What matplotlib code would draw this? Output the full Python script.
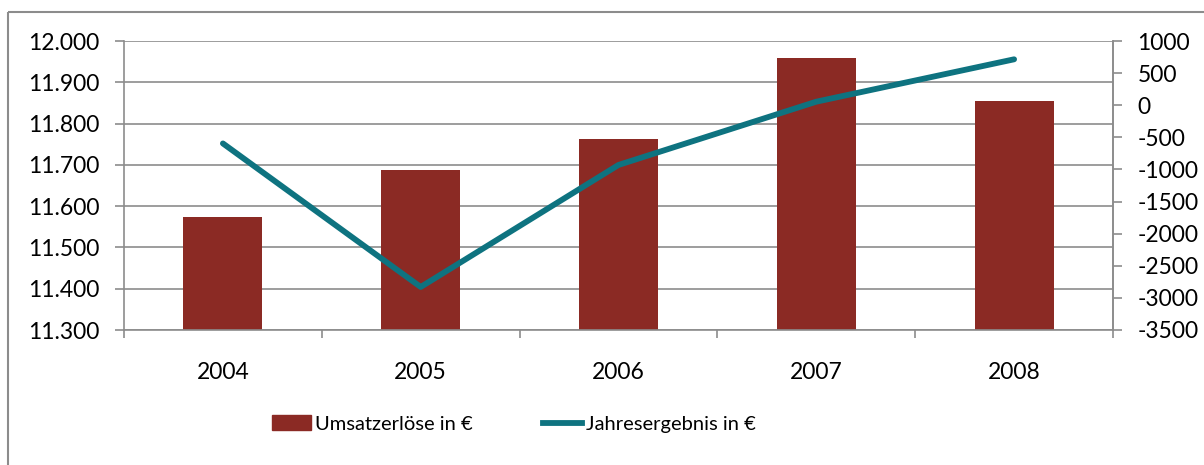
"""
Umsatzerlöse (bars, left axis) vs. Jahresergebnis (line, right axis), 2004-2008.
Saves out.png.
"""

import matplotlib.pyplot as plt
from matplotlib.patches import Rectangle
from matplotlib.lines import Line2D
from matplotlib.ticker import FuncFormatter

# data
years = ["2004", "2005", "2006", "2007", "2008"]
umsatz = [11.573, 11.688, 11.762, 11.958, 11.855]
ergebnis = [-595, -2830, -930, 55, 715]
left_ticks = [11.3, 11.4, 11.5, 11.6, 11.7, 11.8, 11.9, 12.0]
right_ticks = [-3500, -3000, -2500, -2000, -1500, -1000, -500, 0, 500, 1000]

bar_color = "#8B2A24"
line_color = "#0E7380"
grid_color = "#8C8C8C"

plt.rcParams["font.family"] = ["Lato", "DejaVu Sans"]
plt.rcParams["axes.unicode_minus"] = False
fs = 16.5      # tick / year labels
fs_leg = 14.5  # legend

W, H = 1204, 465
fig = plt.figure(figsize=(W / 100, H / 100), dpi=100)

# outer chart border (cut off at right/bottom like the screenshot)
fig.patches.append(Rectangle((8 / W, 1 - 12 / H), 1.2, -1.2, transform=fig.transFigure,
                             fill=False, edgecolor="#8C8C8C", linewidth=1.5))

ax = fig.add_axes([124 / W, 1 - 330 / H, (1113 - 124) / W, (330 - 41) / H])
x = list(range(len(years)))
ax.bar(x, umsatz, width=0.4, color=bar_color, zorder=2)
ax.set_ylim(11.3, 12.0)
ax.set_xlim(-0.5, len(years) - 0.5)
ax.set_yticks(left_ticks)
ax.yaxis.set_major_formatter(FuncFormatter(lambda v, p: f"{v:.3f}"))
ax.grid(axis="y", color=grid_color, linewidth=1.2, zorder=0)
ax.set_axisbelow(True)

# category boundaries as x ticks, year labels centred between them
ax.set_xticks([i + 0.5 for i in range(-1, len(years))])
ax.set_xticklabels([])
ax.tick_params(axis="x", length=6, color=grid_color, width=1.2)
for i, yr in zip(x, years):
    ax.text(i, -0.146, yr, transform=ax.get_xaxis_transform(), ha="center", va="center",
            fontsize=fs)
ax.tick_params(axis="y", length=6.5, color=grid_color, width=1.2, labelsize=fs, pad=11)

ax.spines["top"].set_visible(False)
for side in ["left", "right", "bottom"]:
    ax.spines[side].set_color(grid_color)
    ax.spines[side].set_linewidth(1.2)

ax2 = ax.twinx()
ax2.plot(x, ergebnis, color=line_color, linewidth=4.2, solid_capstyle="round",
         solid_joinstyle="round", zorder=3)
ax2.set_ylim(-3500, 1000)
ax2.set_yticks(right_ticks)
ax2.yaxis.set_major_formatter(FuncFormatter(lambda v, p: f"{v:.0f}"))
ax2.tick_params(axis="y", length=6.5, color=grid_color, width=1.2, labelsize=fs, pad=11)
for side in ["top", "left", "bottom"]:
    ax2.spines[side].set_visible(False)
ax2.spines["right"].set_color(grid_color)
ax2.spines["right"].set_linewidth(1.2)

# legend
handles = [Rectangle((0, 0), 1, 1, color=bar_color),
           Line2D([0], [0], color=line_color, linewidth=4.2)]
fig.legend(handles, ["Umsatzerlöse in €", "Jahresergebnis in €"],
           loc="center", bbox_to_anchor=(514 / W, 1 - 424 / H), ncol=2, frameon=False,
           fontsize=fs_leg, handlelength=1.95, handleheight=0.77, handletextpad=0.2,
           columnspacing=3.5)

plt.savefig("out.png", dpi=100)
